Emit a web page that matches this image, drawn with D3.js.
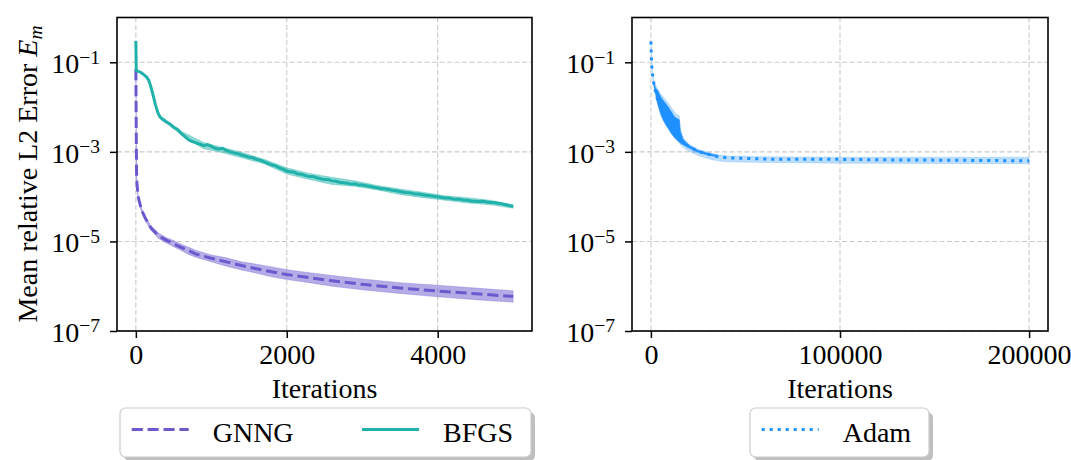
<!DOCTYPE html>
<html>
<head>
<meta charset="utf-8">
<script src="https://cdn.jsdelivr.net/npm/d3@7"></script>
<style>
  body { margin: 0; background: #fff; }
  svg { display: block; }
  text { font-family: "Liberation Serif", "DejaVu Serif", serif; fill: #000; }
</style>
</head>
<body>
<svg id="chart" width="1071" height="460"></svg>
<script>
// ---- data: [iteration, mean relative L2 error] ----
const gnngMean = [
  [0, 7.0e-2], [5, 3.2e-3], [10, 2.5e-4], [30, 1.0e-4], [75, 5.0e-5], [130, 3.2e-5],
  [200, 2.0e-5], [300, 1.35e-5], [400, 1.07e-5], [500, 8.9e-6], [600, 7.4e-6],
  [700, 6.2e-6], [800, 5.2e-6], [1000, 4.2e-6], [1200, 3.5e-6], [1400, 2.9e-6],
  [1600, 2.45e-6], [1800, 2.1e-6], [2000, 1.82e-6], [2300, 1.55e-6], [2600, 1.32e-6],
  [3000, 1.1e-6], [3500, 9.1e-7], [4000, 7.8e-7], [4500, 6.8e-7], [5000, 5.9e-7]
]
// [iteration, lower, upper]
const gnngBand = [
  [0, 7.0e-2, 7.0e-2], [5, 3.0e-3, 3.3e-3], [10, 2.3e-4, 2.7e-4], [30, 9.1e-5, 1.1e-4],
  [75, 4.5e-5, 5.6e-5], [130, 2.8e-5, 3.5e-5], [200, 1.78e-5, 2.24e-5], [300, 1.17e-5, 1.55e-5],
  [400, 9.3e-6, 1.23e-5], [500, 7.6e-6, 1.05e-5], [600, 6.3e-6, 8.7e-6], [700, 5.1e-6, 7.4e-6],
  [800, 4.4e-6, 6.3e-6], [1000, 3.5e-6, 5.0e-6], [1200, 2.8e-6, 4.3e-6], [1400, 2.3e-6, 3.5e-6],
  [1600, 1.95e-6, 3.1e-6], [1800, 1.62e-6, 2.7e-6], [2000, 1.41e-6, 2.34e-6], [2300, 1.2e-6, 2.0e-6],
  [2600, 1.0e-6, 1.74e-6], [3000, 8.3e-7, 1.45e-6], [3500, 6.9e-7, 1.2e-6], [4000, 5.8e-7, 1.05e-6],
  [4500, 5.0e-7, 9.1e-7], [5000, 4.4e-7, 7.9e-7]
]

const bfgsMean = [
  [0, 3.0e-1], [5, 6.6e-2], [30, 6.3e-2], [60, 6.0e-2], [100, 5.4e-2], [140, 4.7e-2],
  [170, 4.0e-2], [200, 2.8e-2], [230, 1.8e-2], [260, 1.12e-2], [290, 7.6e-3], [320, 6.0e-3],
  [350, 5.4e-3], [400, 4.7e-3], [450, 4.2e-3], [500, 3.55e-3], [550, 3.2e-3], [600, 2.6e-3],
  [650, 2.2e-3], [700, 1.86e-3], [750, 1.7e-3], [800, 1.58e-3], [850, 1.48e-3], [900, 1.38e-3],
  [950, 1.45e-3], [1000, 1.32e-3], [1050, 1.2e-3], [1100, 1.15e-3], [1150, 1.2e-3], [1200, 1.07e-3],
  [1250, 1.0e-3], [1300, 9.5e-4], [1350, 9.1e-4], [1400, 8.5e-4], [1450, 8.1e-4], [1500, 7.6e-4],
  [1550, 7.4e-4], [1600, 6.8e-4], [1650, 6.5e-4], [1700, 6.0e-4], [1750, 5.5e-4], [1800, 5.1e-4],
  [1850, 4.9e-4], [1900, 4.4e-4], [1950, 4.1e-4], [2000, 3.7e-4], [2050, 3.6e-4], [2100, 3.5e-4],
  [2150, 3.2e-4], [2200, 3.15e-4], [2250, 2.95e-4], [2300, 2.8e-4], [2350, 2.8e-4], [2400, 2.65e-4],
  [2450, 2.5e-4], [2500, 2.4e-4], [2550, 2.4e-4], [2600, 2.25e-4], [2650, 2.2e-4], [2700, 2.1e-4],
  [2750, 2.05e-4], [2800, 2.0e-4], [2850, 1.9e-4], [2900, 1.95e-4], [2950, 1.82e-4], [3000, 1.82e-4],
  [3050, 1.75e-4], [3100, 1.7e-4], [3150, 1.62e-4], [3200, 1.58e-4], [3250, 1.5e-4], [3300, 1.5e-4],
  [3350, 1.45e-4], [3400, 1.38e-4], [3450, 1.35e-4], [3500, 1.3e-4], [3550, 1.26e-4], [3600, 1.23e-4],
  [3650, 1.2e-4], [3700, 1.15e-4], [3750, 1.15e-4], [3800, 1.1e-4], [3850, 1.07e-4], [3900, 1.05e-4],
  [3950, 1.02e-4], [4000, 1.0e-4], [4050, 9.6e-5], [4100, 9.3e-5], [4150, 9.3e-5], [4200, 8.9e-5],
  [4250, 8.7e-5], [4300, 8.7e-5], [4350, 8.3e-5], [4400, 8.3e-5], [4450, 7.9e-5], [4500, 7.9e-5],
  [4550, 7.8e-5], [4600, 7.9e-5], [4650, 7.6e-5], [4700, 7.4e-5], [4750, 7.4e-5], [4800, 7.1e-5],
  [4850, 6.9e-5], [4900, 6.6e-5], [4950, 6.3e-5], [5000, 6.0e-5]
]
const bfgsBand = [
  [320, 5.6e-3, 6.5e-3], [600, 2.4e-3, 2.9e-3], [900, 1.17e-3, 1.62e-3], [1100, 1.0e-3, 1.32e-3],
  [1400, 7.4e-4, 9.8e-4], [1700, 5.4e-4, 6.8e-4], [2000, 3.2e-4, 4.4e-4], [2300, 2.4e-4, 3.3e-4],
  [2600, 1.86e-4, 2.7e-4], [2900, 1.7e-4, 2.25e-4], [3200, 1.41e-4, 1.78e-4], [3500, 1.12e-4, 1.48e-4],
  [3800, 9.5e-5, 1.26e-4], [4100, 8.3e-5, 1.05e-4], [4400, 7.2e-5, 9.5e-5], [4700, 6.6e-5, 8.3e-5],
  [5000, 5.5e-5, 6.6e-5]
]

const adamMean = [
  [0, 2.9e-1], [300, 1.0e-1], [800, 5.6e-2], [1500, 3.4e-2], [3000, 1.7e-2], [5000, 1.05e-2],
  [7000, 7.2e-3], [9000, 5.2e-3], [11000, 3.8e-3], [13000, 2.8e-3], [15000, 2.1e-3],
  [17000, 1.66e-3], [20000, 1.32e-3], [25000, 1.02e-3], [30000, 8.9e-4], [35000, 7.9e-4],
  [40000, 7.4e-4], [60000, 6.9e-4], [80000, 6.8e-4], [100000, 6.8e-4], [130000, 6.6e-4],
  [160000, 6.5e-4], [200000, 6.3e-4]
]
// envelope of the strongly oscillating early Adam curve
const adamSpread = [
  [1500, 3.2e-2, 3.6e-2], [2500, 1.9e-2, 2.6e-2], [3500, 1.2e-2, 2.4e-2], [5000, 7.6e-3, 1.74e-2],
  [6500, 5.2e-3, 1.41e-2], [8000, 4.0e-3, 1.17e-2], [9500, 3.2e-3, 9.5e-3], [11000, 2.5e-3, 7.6e-3],
  [12500, 2.1e-3, 6.0e-3], [14000, 1.82e-3, 5.5e-3], [15000, 1.66e-3, 5.2e-3], [15600, 1.58e-3, 2.8e-3],
  [17000, 1.45e-3, 1.9e-3], [20000, 1.23e-3, 1.41e-3], [25000, 9.8e-4, 1.07e-3], [30000, 8.5e-4, 9.3e-4],
  [35000, 7.8e-4, 8.3e-4]
]
const adamBand = [
  [0, 2.9e-1, 2.9e-1], [800, 5.4e-2, 5.9e-2], [1500, 2.9e-2, 4.0e-2], [3000, 1.6e-2, 2.8e-2],
  [5000, 6.6e-3, 2.0e-2], [7000, 4.5e-3, 1.6e-2], [9000, 3.3e-3, 1.26e-2], [11000, 2.5e-3, 9.5e-3],
  [13000, 1.9e-3, 7.2e-3], [15000, 1.6e-3, 6.3e-3], [15600, 1.45e-3, 3.2e-3], [17000, 1.26e-3, 2.1e-3],
  [20000, 1.05e-3, 1.5e-3], [25000, 8.3e-4, 1.15e-3], [30000, 7.1e-4, 9.8e-4], [35000, 6.3e-4, 8.7e-4],
  [40000, 6.0e-4, 8.1e-4], [60000, 5.75e-4, 7.8e-4], [100000, 5.6e-4, 7.6e-4], [150000, 5.5e-4, 7.6e-4],
  [200000, 5.4e-4, 7.6e-4]
]

const leftXTicks = [0, 2000, 4000]
const rightXTicks = [0, 100000, 200000]
const yTicks = [1e-1, 1e-3, 1e-5, 1e-7]
const yTickExp = ["1", "3", "5", "7"]

const colors = { GNNG: "#6a5acd", BFGS: "#20b2aa", Adam: "#1e90ff" }

// ---- layout ----
const fs = 28
const plotTop = 17.5
const plotBottom = 331
const svg = d3.select("#chart")

const y = d3.scaleLog().domain([1e-7, 1]).range([plotBottom, plotTop])

function drawPanel(id, left, right, xDomain, xTicks) {
  const x = d3.scaleLinear().domain(xDomain).range([left, right])
  const g = svg.append("g")

  g.append("clipPath")
    .attr("id", "clip-" + id)
    .append("rect")
    .attr("x", left)
    .attr("y", plotTop)
    .attr("width", right - left)
    .attr("height", plotBottom - plotTop)

  // grid
  const grid = g.append("g")
  grid
    .selectAll("line.gx")
    .data(xTicks)
    .join("line")
    .attr("class", "gx")
    .attr("x1", (d) => x(d))
    .attr("x2", (d) => x(d))
    .attr("y1", plotTop)
    .attr("y2", plotBottom)
  grid
    .selectAll("line.gy")
    .data(yTicks)
    .join("line")
    .attr("class", "gy")
    .attr("x1", left)
    .attr("x2", right)
    .attr("y1", (d) => y(d))
    .attr("y2", (d) => y(d))
  grid
    .selectAll("line")
    .attr("stroke", "#c9c9c9")
    .attr("stroke-width", 1.1)
    .attr("stroke-dasharray", "5,2.5")

  const plot = g.append("g").attr("clip-path", `url(#clip-${id})`)

  // x axis
  const xAxis = g
    .append("g")
    .attr("transform", `translate(0,${plotBottom})`)
    .call(
      d3.axisBottom(x).tickValues(xTicks).tickSize(7).tickSizeOuter(0).tickPadding(6).tickFormat(d3.format("d"))
    )
  xAxis.select(".domain").remove()
  xAxis.selectAll("line").attr("stroke-width", 1.5)
  xAxis.selectAll("text").attr("font-size", fs).attr("font-family", null)

  // y axis with 10^{-n} labels
  const yAxis = g
    .append("g")
    .attr("transform", `translate(${left},0)`)
    .call(d3.axisLeft(y).tickValues(yTicks).tickSize(7).tickSizeOuter(0).tickFormat(() => ""))
  yAxis.select(".domain").remove()
  yAxis.selectAll("line").attr("stroke-width", 1.5)
  yAxis.selectAll(".tick").each(function (d, i) {
    const t = d3
      .select(this)
      .append("text")
      .attr("x", -17)
      .attr("dy", "0.37em")
      .attr("text-anchor", "end")
      .attr("font-size", fs)
    t.append("tspan").text("10")
    t.append("tspan").attr("font-size", fs * 0.7).attr("dy", -9.5).text("\u2212" + yTickExp[i])
  })
  g.selectAll(".tick text").attr("font-family", null)

  g.append("text")
    .attr("x", (left + right) / 2)
    .attr("y", 398)
    .attr("text-anchor", "middle")
    .attr("font-size", fs)
    .text("Iterations")

  // frame drawn last
  g.append("rect")
    .attr("x", left)
    .attr("y", plotTop)
    .attr("width", right - left)
    .attr("height", plotBottom - plotTop)
    .attr("fill", "none")
    .attr("stroke", "#000")
    .attr("stroke-width", 1.6)

  return { x, plot, g }
}

function band(panel, data, color, opacity) {
  panel.plot
    .append("path")
    .datum(data)
    .attr(
      "d",
      d3
        .area()
        .x((d) => panel.x(d[0]))
        .y0((d) => y(d[1]))
        .y1((d) => y(d[2]))
    )
    .attr("fill", color)
    .attr("fill-opacity", opacity)
    .attr("stroke", color)
    .attr("stroke-opacity", opacity * 0.6)
    .attr("stroke-width", 1)
}

function curve(panel, data, color, dash) {
  panel.plot
    .append("path")
    .datum(data)
    .attr(
      "d",
      d3
        .line()
        .x((d) => panel.x(d[0]))
        .y((d) => y(d[1]))
    )
    .attr("fill", "none")
    .attr("stroke", color)
    .attr("stroke-width", 3)
    .attr("stroke-dasharray", dash)
    .attr("stroke-linejoin", "round")
}

const leftPanel = drawPanel("left", 117, 532, [-250, 5250], leftXTicks)
const rightPanel = drawPanel("right", 632, 1048, [-10000, 210000], rightXTicks)

band(leftPanel, gnngBand, colors.GNNG, 0.5)
band(leftPanel, bfgsBand, colors.BFGS, 0.5)
curve(leftPanel, gnngMean, colors.GNNG, "11.1,4.8")
curve(leftPanel, bfgsMean, colors.BFGS, null)

band(rightPanel, adamBand, colors.Adam, 0.3)
band(rightPanel, adamSpread, colors.Adam, 1)
curve(rightPanel, adamMean, colors.Adam, "3,5")

// y label
const ylab = svg
  .append("text")
  .attr("transform", "translate(36.5,174) rotate(-90)")
  .attr("text-anchor", "middle")
  .attr("font-size", fs)
ylab.append("tspan").text("Mean relative L2 Error ")
ylab.append("tspan").attr("font-style", "italic").text("E")
ylab.append("tspan").attr("font-style", "italic").attr("font-size", fs * 0.7).attr("dy", 5).text("m")

// legends
function legend(x0, width, items) {
  const g = svg.append("g")
  const y0 = 408
  const h = 49
  g.append("rect")
    .attr("x", x0 + 4)
    .attr("y", y0 + 4)
    .attr("width", width)
    .attr("height", h)
    .attr("rx", 5.6)
    .attr("fill", "#808080")
    .attr("fill-opacity", 0.5)
  g.append("rect")
    .attr("x", x0)
    .attr("y", y0)
    .attr("width", width)
    .attr("height", h)
    .attr("rx", 5.6)
    .attr("fill", "#fff")
    .attr("stroke", "#cccccc")
    .attr("stroke-width", 1.2)
  items.forEach((it) => {
    g.append("line")
      .attr("x1", it.hx)
      .attr("x2", it.hx + 57)
      .attr("y1", 429.5)
      .attr("y2", 429.5)
      .attr("stroke", colors[it.name])
      .attr("stroke-width", 3)
      .attr("stroke-dasharray", it.dash)
    g.append("text")
      .attr("x", it.hx + 57 + 24)
      .attr("y", 442)
      .attr("font-size", fs)
      .text(it.name)
  })
}

legend(120, 411, [
  { name: "GNNG", hx: 131.7, dash: "11.1,4.8" },
  { name: "BFGS", hx: 362, dash: null },
])
legend(750, 179, [{ name: "Adam", hx: 761.7, dash: "3,5" }])
</script>
</body>
</html>
